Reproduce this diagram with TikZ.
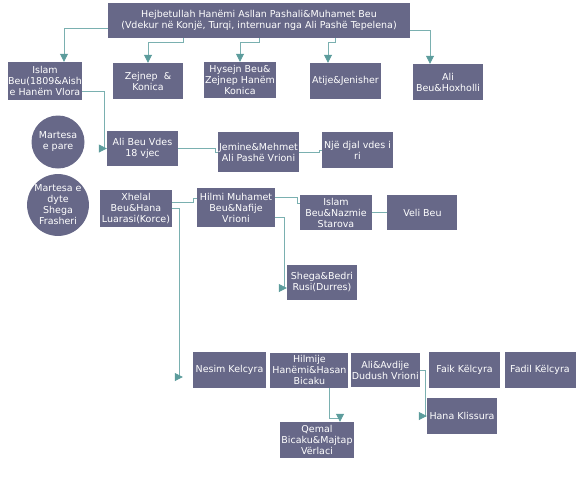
\documentclass[tikz,border=0pt]{standalone}
\usepackage{fontspec}
\setmainfont{DejaVu Sans}
\usepackage{tikz}
\usetikzlibrary{arrows.meta, positioning}
\definecolor{boxfill}{RGB}{103,104,136}
\definecolor{linkcol}{RGB}{122,176,176}
\definecolor{tipcol}{RGB}{92,156,156}

\begin{document}
\begin{tikzpicture}[
        x=1pt, y=-1pt,
        node distance=4pt,
        font=\fontsize{9.5}{11}\selectfont,
        person/.style={rectangle, fill=boxfill, text=white, minimum width=71pt, minimum height=36pt, inner sep=1pt, align=center},
        marriage/.style={circle, fill=boxfill, text=white, minimum size=53pt, inner sep=0pt, align=center},
        link/.style={draw=linkcol, line width=0.8pt},
        arrow/.style={link, -{Triangle[length=8pt, width=8pt, color=tipcol]}}
    ]
        \useasboundingbox (0,0) rectangle (585,480);

        % Parents
        \node[person, minimum width=302pt, minimum height=35pt] (parents) at (259,20.5) {Hejbetullah Hanëmi Asllan Pashali\&Muhamet Beu\\(Vdekur në Konjë, Turqi, internuar nga Ali Pashë Tepelena)};

        % Children
        \node[person, minimum width=74pt, minimum height=38pt, inner xsep=0pt] (islam) at (45,81) {Islam\\Beu(1809\&Aish\\e Hanëm Vlora};
        \node[person, minimum width=70pt] (zejnep) at (148,81) {Zejnep~~\&\\Konica};
        \node[person, minimum width=72pt] (hysejn) at (240,80) {Hysejn Beu\&\\Zejnep Hanëm\\Konica};
        \node[person] (atije) at (345.5,81) {Atije\&Jenisher};
        \node[person, minimum width=70pt] (alihox) at (448,82) {Ali\\Beu\&Hoxholli};

        % First marriage
        \node[marriage] (pare) at (58,142) {Martesa\\e pare};
        \node[person, minimum height=35pt] (aliv) at (142.5,148.5) {Ali Beu Vdes\\18 vjec};
        \node[person, minimum width=79pt, minimum height=40pt] (jemine) at (258.5,152) {Jemine\&Mehmet\\Ali Pashë Vrioni};
        \node[person] (djal) at (357.5,150) {Një djal vdes i\\ri};

        % Second marriage
        \node[marriage, minimum size=60pt] (dyte) at (58,205) {Martesa e\\dyte\\Shega\\Frasheri};
        \node[person, minimum width=72pt, minimum height=37pt] (xhelal) at (136,208.5) {Xhelal\\Beu\&Hana\\Luarasi(Korce)};
        \node[person, minimum width=78pt, minimum height=39pt] (hilmi) at (236,207.5) {Hilmi Muhamet\\Beu\&Nafije\\Vrioni};
        \node[person, minimum width=72pt, minimum height=35pt] (islamn) at (336,212.5) {Islam\\Beu\&Nazmie\\Starova};
        \node[person, minimum width=70pt, minimum height=35pt, right=15pt of islamn] (veli) {Veli Beu};
        \node[person, minimum width=70pt, minimum height=35pt] (shega) at (322,282.5) {Shega\&Bedri\\Rusi(Durres)};

        % Grandchildren
        \node[person, minimum width=73pt] (nesim) at (229.5,370) {Nesim Kelcyra};
        \node[person, minimum width=78pt, minimum height=35pt, right=of nesim] (hilmije) {Hilmije\\Hanëmi\&Hasan\\Bicaku};
        \node[person, minimum width=68pt, minimum height=34pt, right=2pt of hilmije] (aliav) {Ali\&Avdije\\Dudush Vrioni};
        \node[person, right=9pt of aliav] (faik) {Faik Këlcyra};
        \node[person, right=of faik] (fadil) {Fadil Këlcyra};
        \node[person, minimum width=70pt] (hana) at (462,416) {Hana Klissura};
        \node[person, minimum width=72pt] (qemal) at (317,440) {Qemal\\Bicaku\&Majtap\\Vërlaci};

        % Links from the parents
        \draw[arrow] ([yshift=-7.5pt]parents.west) -| ([xshift=19pt]islam.north);
        \draw[arrow] (zejnep.north east |- parents.south) -- ++(0,4) -| (zejnep.north);
        \draw[arrow] (parents.south) -- ++(0,4) -| (hysejn.north);
        \draw[arrow] ([xshift=76pt]parents.south) -- ++(0,4) -| ([xshift=-17.5pt]atije.north);
        \draw[arrow] ([yshift=-9.5pt]parents.east) -| ([xshift=-18pt]alihox.north);

        % Links of the first marriage
        \draw[arrow] ([yshift=-10pt]islam.east) -| ([xshift=-2pt]aliv.west) -- (aliv.west);
        \draw[link] (aliv.east) -- ++(37,0) |- (jemine.west);
        \draw[link] (jemine.east) -- ++(20,0) |- (djal.west);

        % Links of the second marriage
        \draw[link] ([yshift=6.5pt]xhelal.east) -- ++(21,0) |- ([yshift=9.5pt]hilmi.west);
        \draw[arrow] (xhelal.east) -- ++(7,0) |- ([xshift=-10pt,yshift=-7pt]nesim.west);
        \draw[link] ([yshift=10.5pt]hilmi.east) -- ++(22,0) |- ([yshift=9.5pt]islamn.west);
        \draw[arrow] ([yshift=-9.5pt]hilmi.east) -| ([xshift=-2pt,yshift=-5.5pt]shega.west) -- ([yshift=-5.5pt]shega.west);
        \draw[link] (islamn.east) -- (veli.west);
        \draw[arrow] ([xshift=20pt]hilmije.south) -- ++(0,31) -| ([xshift=23pt]qemal.north);
        \draw[arrow] (aliav.east) -- ++(5,0) |- (hana.west);

    \end{tikzpicture}
\end{document}
